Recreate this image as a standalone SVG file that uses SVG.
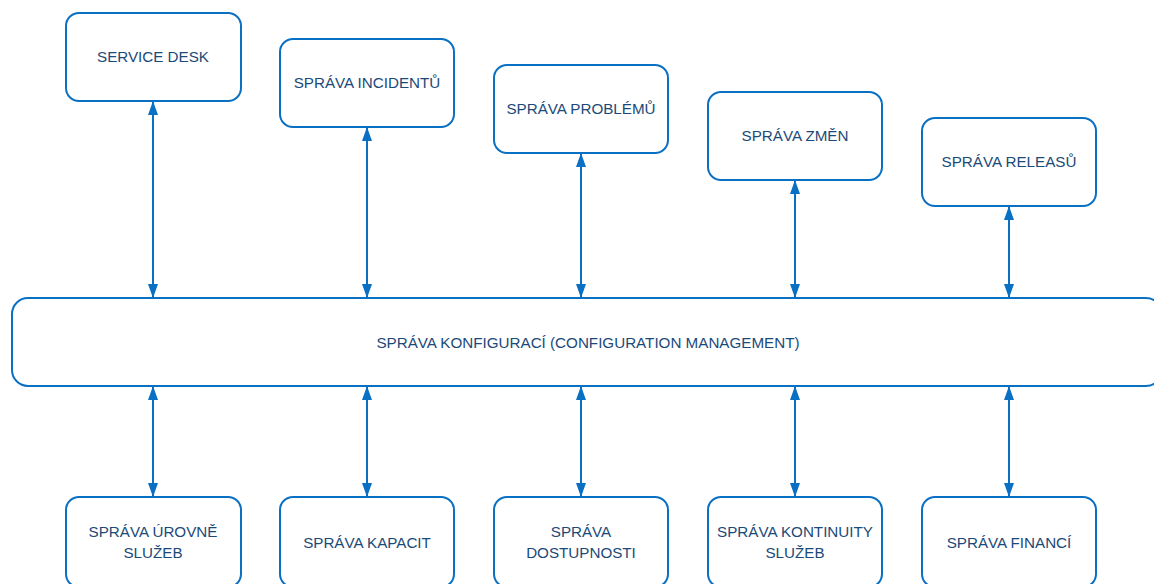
<svg xmlns="http://www.w3.org/2000/svg" width="1154" height="584" viewBox="0 0 1154 584">
  <style>
    .box { fill: #ffffff; stroke: #0a70c4; stroke-width: 2; }
    .lbl { font-family: "Liberation Sans", Arial, sans-serif; font-size: 15.2px; fill: #1b4a78; text-anchor: middle; }
    .conn { stroke: #0a70c4; stroke-width: 2; fill: none; marker-start: url(#arr); marker-end: url(#arr); }
  </style>
  <defs>
    <marker id="arr" viewBox="0 0 14 10" refX="13" refY="5" markerWidth="14" markerHeight="10" markerUnits="userSpaceOnUse" orient="auto-start-reverse">
      <path d="M0,0 L14,5 L0,10 Z" fill="#0a70c4"/>
    </marker>
  </defs>
  <rect width="1154" height="584" fill="#ffffff"/>

  <!-- connectors -->
  <g id="connectors">
    <line class="conn" x1="153" y1="102" x2="153" y2="297"/>
    <line class="conn" x1="367" y1="128" x2="367" y2="297"/>
    <line class="conn" x1="581" y1="154" x2="581" y2="297"/>
    <line class="conn" x1="795" y1="181" x2="795" y2="297"/>
    <line class="conn" x1="1009" y1="207" x2="1009" y2="297"/>
    <line class="conn" x1="153" y1="387" x2="153" y2="496"/>
    <line class="conn" x1="367" y1="387" x2="367" y2="496"/>
    <line class="conn" x1="581" y1="387" x2="581" y2="496"/>
    <line class="conn" x1="795" y1="387" x2="795" y2="496"/>
    <line class="conn" x1="1009" y1="387" x2="1009" y2="496"/>
  </g>

  <!-- top row -->
  <g id="service-desk">
    <rect class="box" x="66" y="13" width="175" height="88" rx="13"/>
    <text class="lbl" x="153" y="62">SERVICE DESK</text>
  </g>
  <g id="sprava-incidentu">
    <rect class="box" x="280" y="39" width="174" height="88" rx="13"/>
    <text class="lbl" x="367" y="88">SPRÁVA INCIDENTŮ</text>
  </g>
  <g id="sprava-problemu">
    <rect class="box" x="494" y="65" width="174" height="88" rx="13"/>
    <text class="lbl" x="581" y="114">SPRÁVA PROBLÉMŮ</text>
  </g>
  <g id="sprava-zmen">
    <rect class="box" x="708" y="92" width="174" height="88" rx="13"/>
    <text class="lbl" x="795" y="141">SPRÁVA ZMĚN</text>
  </g>
  <g id="sprava-releasu">
    <rect class="box" x="922" y="118" width="174" height="88" rx="13"/>
    <text class="lbl" x="1009" y="167">SPRÁVA RELEASŮ</text>
  </g>

  <!-- central box -->
  <g id="sprava-konfiguraci">
    <rect class="box" x="12" y="298" width="1150" height="88" rx="16"/>
    <text class="lbl" x="588" y="348">SPRÁVA KONFIGURACÍ (CONFIGURATION MANAGEMENT)</text>
  </g>

  <!-- bottom row -->
  <g id="sprava-urovne-sluzeb">
    <rect class="box" x="66" y="497" width="175" height="90" rx="13"/>
    <text class="lbl" x="153" y="537">SPRÁVA ÚROVNĚ</text>
    <text class="lbl" x="153" y="558">SLUŽEB</text>
  </g>
  <g id="sprava-kapacit">
    <rect class="box" x="280" y="497" width="174" height="90" rx="13"/>
    <text class="lbl" x="367" y="548">SPRÁVA KAPACIT</text>
  </g>
  <g id="sprava-dostupnosti">
    <rect class="box" x="494" y="497" width="174" height="90" rx="13"/>
    <text class="lbl" x="581" y="537">SPRÁVA</text>
    <text class="lbl" x="581" y="558">DOSTUPNOSTI</text>
  </g>
  <g id="sprava-kontinuity-sluzeb">
    <rect class="box" x="708" y="497" width="174" height="90" rx="13"/>
    <text class="lbl" x="795" y="537">SPRÁVA KONTINUITY</text>
    <text class="lbl" x="795" y="558">SLUŽEB</text>
  </g>
  <g id="sprava-financi">
    <rect class="box" x="922" y="497" width="174" height="90" rx="13"/>
    <text class="lbl" x="1009" y="548">SPRÁVA FINANCÍ</text>
  </g>
</svg>
